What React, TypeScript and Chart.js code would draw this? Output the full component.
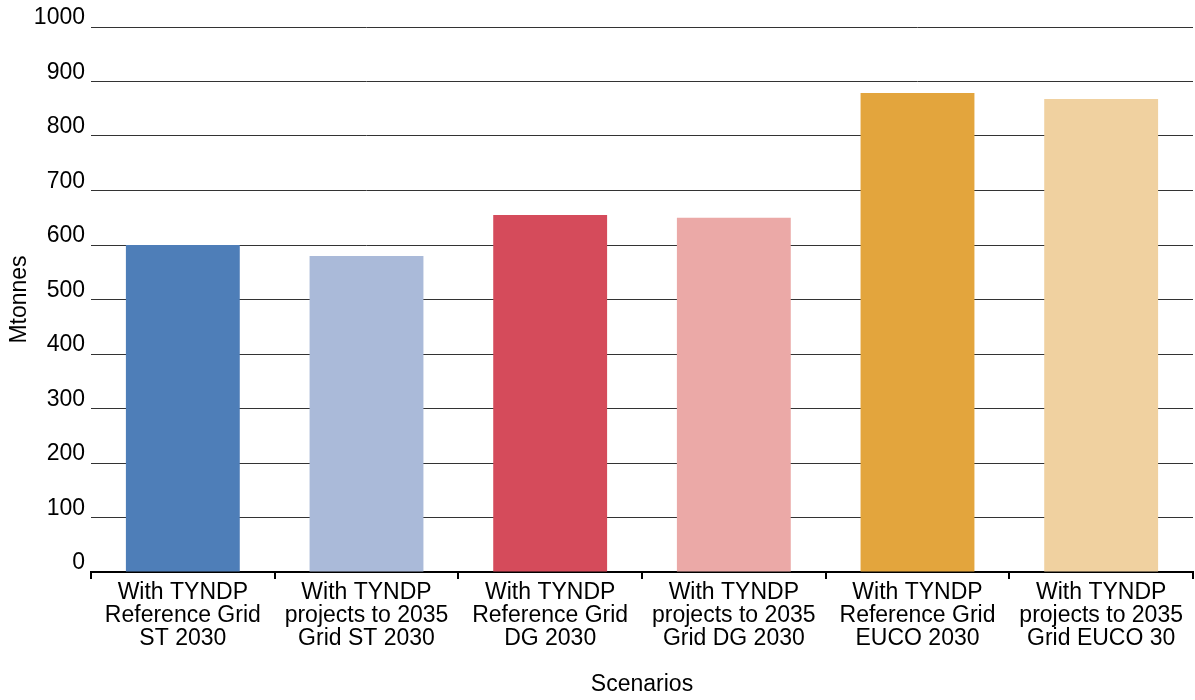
import React, { useEffect, useRef } from "react";
import { Chart, registerables } from "chart.js";

Chart.register(...registerables);

const categories: string[][] = [
  ["With TYNDP", "Reference Grid", "ST 2030"],
  ["With TYNDP", "projects to 2035", "Grid ST 2030"],
  ["With TYNDP", "Reference Grid", "DG 2030"],
  ["With TYNDP", "projects to 2035", "Grid DG 2030"],
  ["With TYNDP", "Reference Grid", "EUCO 2030"],
  ["With TYNDP", "projects to 2035", "Grid EUCO 30"],
];
const values: number[] = [600, 580, 655, 650, 879, 868];
const barColors: string[] = ["#4E7EB8", "#AABAD9", "#D54B5B", "#EBA9A7", "#E3A53D", "#F0D1A0"];
const yTicks: number[] = [0, 100, 200, 300, 400, 500, 600, 700, 800, 900, 1000];

const FONT = "'Liberation Sans', Arial, sans-serif";

export default function App() {
  const ref = useRef<HTMLCanvasElement | null>(null);
  useEffect(() => {
    document.body.style.margin = "0";
    const ctx = ref.current!;
    const chart = new Chart(ctx, {
      type: "bar",
      data: {
        labels: categories,
        datasets: [
          {
            data: values,
            backgroundColor: barColors,
            borderWidth: 0,
            barPercentage: 0.62,
            categoryPercentage: 1,
          },
        ],
      },
      options: {
        animation: false,
        responsive: false,
        maintainAspectRatio: false,
        layout: { padding: { top: 27, right: 2, left: 0, bottom: 0 } },
        plugins: { legend: { display: false }, tooltip: { enabled: false } },
        scales: {
          x: {
            afterFit: (scale: any) => {
              scale.height = 128;
            },
            grid: {
              display: true,
              drawOnChartArea: false,
              drawTicks: true,
              tickLength: 7,
              color: "#000",
              lineWidth: 2,
              offset: true,
            },
            border: { display: true, color: "#000", width: 2 },
            ticks: {
              color: "#000",
              font: { family: FONT, size: 23, lineHeight: 1.0 },
              padding: 2,
              maxRotation: 0,
              autoSkip: false,
            },
            title: {
              display: true,
              text: "Scenarios",
              color: "#000",
              font: { family: FONT, size: 23 },
              padding: { top: 10, bottom: 2 },
            },
          },
          y: {
            min: 0,
            max: 1000,
            afterBuildTicks: (scale: any) => {
              scale.ticks = yTicks.map((v) => ({ value: v }));
            },
            afterFit: (scale: any) => {
              scale.width = 91;
            },
            grid: { color: "#333", lineWidth: 1, drawTicks: false },
            border: { display: false },
            ticks: {
              color: "#000",
              font: { family: FONT, size: 23 },
              padding: 6,
              labelOffset: -9,
              callback: (v: any) => String(v),
            },
            title: {
              display: true,
              text: "Mtonnes",
              color: "#000",
              font: { family: FONT, size: 23 },
              padding: { top: 6, bottom: 0 },
            },
          },
        },
      },
    });
    return () => chart.destroy();
  }, []);
  return <canvas ref={ref} width={1195} height={700} style={{ display: "block" }} />;
}
